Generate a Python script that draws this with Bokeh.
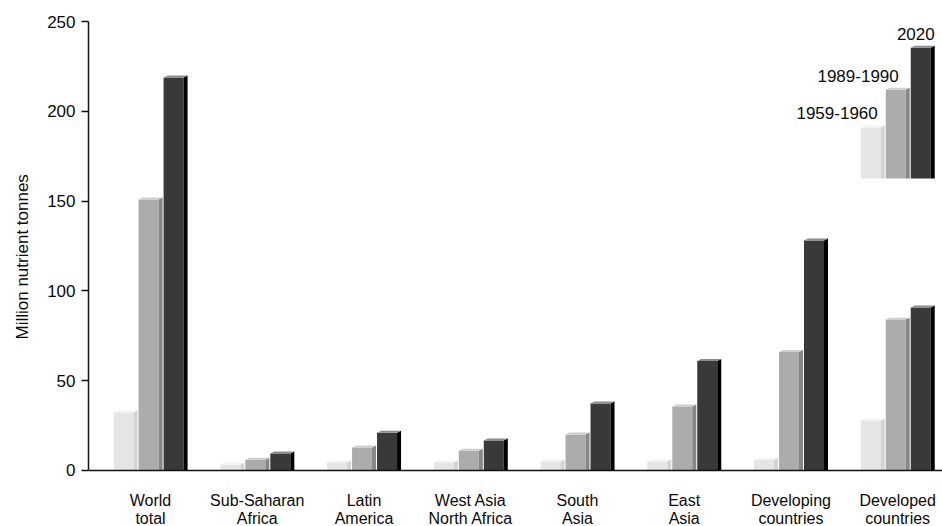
from bokeh.plotting import figure
from bokeh.models import Range1d, FixedTicker, Span, Title
from bokeh.embed import file_html
from bokeh.resources import INLINE
from bokeh.core.properties import value

# Fertilizer nutrient use by region (million nutrient tonnes)
regions = ["World\ntotal", "Sub-Saharan\nAfrica", "Latin\nAmerica",
           "West Asia\nNorth Africa", "South\nAsia", "East\nAsia",
           "Developing\ncountries", "Developed\ncountries"]
use_1960 = [32.3, 3.3, 4.5, 4.5, 5.0, 5.0, 6.0, 27.8]
use_1990 = [150.9, 6.0, 12.8, 11.0, 20.0, 35.6, 66.0, 84.0]
use_2020 = [218.8, 9.5, 21.0, 16.7, 37.3, 61.0, 128.0, 90.7]
periods = ["1959-1960", "1989-1990", "2020"]
y_ticks = [0, 50, 100, 150, 200, 250]
y_title = "Million nutrient tonnes"

FONT = "Liberation Sans"
INK = "#0a0a0a"

# bar geometry (data units along x; one region = 1 unit)
PITCH = 0.2342      # distance between neighbouring bars in a group
FRONT = 0.1874      # width of the front face
SIDE = 0.0375       # depth of the shaded side face
BEVEL = 1.1         # height of the lit top edge (y units)
FIRST = -0.346      # left edge of the first bar relative to the group centre

# front / side / top shades for each period
front_col = ["#e5e5e5", "#acacac", "#393939"]
side_col = ["#d3d3d3", "#878787", "#000000"]
top_col = ["#f3f3f3", "#cdcdcd", "#8c8c8c"]

# key drawn above the last group
KEY_GROUP = 7
KEY_BASE = 162.6
KEY_HEIGHTS = [28.4, 49.4, 72.8]
KEY_LABEL_DX = [-3, -7, 4]

# the plotting area runs below zero so the region names fit underneath
Y_FLOOR = -31.2
NAME_Y = -21.6

p = figure(width=942, height=526, output_backend="svg", toolbar_location=None,
           x_range=Range1d(-0.581, 7.42), y_range=Range1d(Y_FLOOR, 250),
           min_border_left=88, min_border_right=0, min_border_top=21,
           min_border_bottom=0)
p.outline_line_color = None
p.xgrid.visible = False
p.ygrid.visible = False
p.xaxis.visible = False
p.background_fill_color = "white"
p.border_fill_color = "white"


def bar_shapes(x_left, base, top):
    xr = x_left + FRONT
    front = ([x_left, xr, xr, x_left], [base, base, top, top])
    side = ([xr, xr + SIDE, xr + SIDE, xr], [base, base, top + BEVEL, top])
    lid = ([x_left, xr, xr + SIDE, x_left + SIDE], [top, top, top + BEVEL, top + BEVEL])
    return front, side, lid


def draw_bars(centres, bases, tops, k):
    fx, fy, sx, sy, tx, ty = [], [], [], [], [], []
    for c, b, t in zip(centres, bases, tops):
        xl = c + FIRST + k * PITCH
        (a, b1), (c1, d1), (e1, f1) = bar_shapes(xl, b, t)
        fx.append(a); fy.append(b1)
        sx.append(c1); sy.append(d1)
        tx.append(e1); ty.append(f1)
    p.patches(fx, fy, fill_color=front_col[k], line_color=None)
    p.patches(sx, sy, fill_color=side_col[k], line_color=None)
    p.patches(tx, ty, fill_color=top_col[k], line_color=None)


centres = list(range(len(regions)))
for k, series in enumerate([use_1960, use_1990, use_2020]):
    draw_bars(centres, [0] * len(series), series, k)

# baseline along zero
p.add_layout(Span(location=0, dimension="width", line_color="#111111", line_width=1.5))

# key bars with their period labels
for k in range(3):
    top = KEY_BASE + KEY_HEIGHTS[k]
    draw_bars([KEY_GROUP], [KEY_BASE], [top], k)
    xr = KEY_GROUP + FIRST + k * PITCH + FRONT
    p.text(x=[xr], y=[top], text=[periods[k]], text_align="right",
           text_baseline="middle", x_offset=KEY_LABEL_DX[k], y_offset=-14,
           text_font=value(FONT), text_font_size="17px", text_color=INK)

# region names under the baseline
p.text(x=centres, y=[NAME_Y] * len(regions), text=regions,
       text_align="center", text_baseline="middle",
       text_font=value(FONT), text_font_size="16px", text_color=INK,
       text_line_height=1.04)

# y axis, drawn only between 0 and 250
yax = p.yaxis[0]
yax.bounds = (0, 250)
yax.ticker = FixedTicker(ticks=y_ticks)
yax.major_label_text_font = FONT
yax.major_label_text_font_size = "17px"
yax.major_label_text_color = INK
yax.major_label_standoff = 6
yax.major_tick_out = 7
yax.major_tick_in = 0
yax.minor_tick_out = 0
yax.minor_tick_in = 0
yax.axis_line_width = 1.5
yax.axis_line_color = "#111111"
yax.major_tick_line_width = 1.5
yax.major_tick_line_color = "#111111"

# vertical title beside the y axis, centred on the 0-250 span
p.add_layout(Title(text=y_title, align="left", offset=187, vertical_align="top",
                   standoff=22, text_font=FONT, text_font_size="17px",
                   text_font_style="normal", text_color=INK), "left")

open("out.html", "w").write(file_html(p, INLINE))
